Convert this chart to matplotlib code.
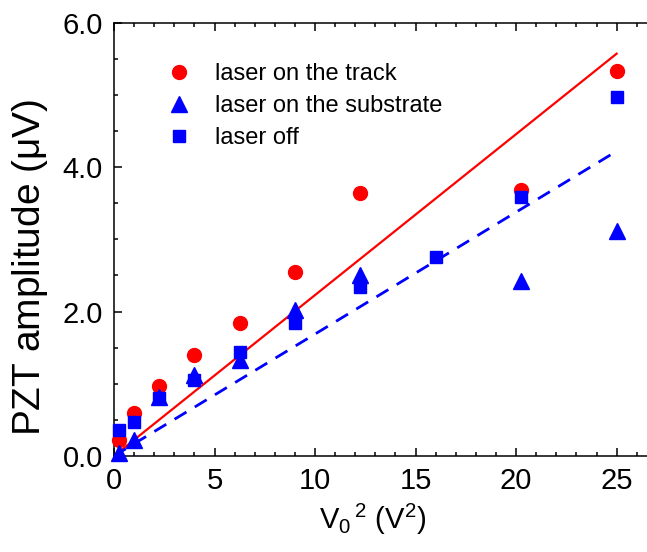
import numpy as np
import matplotlib.pyplot as plt

plt.rcParams['font.family'] = ['Liberation Sans', 'DejaVu Sans']
plt.rcParams['mathtext.default'] = 'regular'

# V0^2 values (V^2)
x_track = [0.25, 1, 2.25, 4, 6.25, 9, 12.25, 20.25, 25]
y_track = [0.22, 0.60, 0.97, 1.40, 1.84, 2.55, 3.64, 3.68, 5.33]

x_sub = [0.25, 1, 2.25, 4, 6.25, 9, 12.25, 20.25, 25]
y_sub = [0.04, 0.22, 0.82, 1.12, 1.33, 2.02, 2.51, 2.42, 3.12]

x_off = [0.25, 1, 2.25, 4, 6.25, 9, 12.25, 16, 20.25, 25]
y_off = [0.36, 0.47, 0.80, 1.05, 1.44, 1.84, 2.34, 2.76, 3.59, 4.97]

# linear fits
x_fit = [0, 25]
y_fit_track = [0.0, 5.57]
y_fit_off = [0.0, 4.22]

fig = plt.figure(figsize=(6.47, 5.52), dpi=100)
ax = fig.add_axes([0.1762, 0.174, 0.839, 0.785])

ax.plot(x_fit, y_fit_track, color='red', lw=1.6)
ax.plot(x_fit, y_fit_off, color='blue', lw=2, ls=(0, (5, 3.5)))

ax.plot(x_track, y_track, 'o', color='red', ms=10, label='laser on the track', clip_on=False, zorder=3)
ax.plot(x_sub, y_sub, '^', color='blue', ms=11, label='laser on the substrate', clip_on=False, zorder=3)
ax.plot(x_off, y_off, 's', color='blue', ms=8.5, label='laser off', clip_on=False, zorder=3)

ax.set_xlim(0, 27)
ax.set_ylim(0, 6)
ax.set_xticks([0, 5, 10, 15, 20, 25])
ax.set_xticks(np.arange(0, 27, 1), minor=True)
ax.set_yticks([0, 2, 4, 6])
ax.set_yticklabels(['0.0', '2.0', '4.0', '6.0'])
ax.set_yticks(np.arange(0, 6.01, 0.5), minor=True)

ax.tick_params(which='both', direction='in', top=True, right=True, width=1.1, labelsize=21)
ax.tick_params(which='major', length=6)
ax.tick_params(which='minor', length=3)
ax.tick_params(axis='y', pad=8)
ax.tick_params(axis='x', pad=8)
for s in ax.spines.values():
    s.set_linewidth(1.1)

ax.set_xlabel(r'V$_0$$^{\,2}$ (V$^2$)', fontsize=21)
ax.set_ylabel(r'PZT amplitude ($\mu$V)', fontsize=28)
ax.xaxis.set_label_coords(0.476, -0.105)
ax.yaxis.set_label_coords(-0.118, 0.435)

ax.legend(loc='upper left', bbox_to_anchor=(0.055, 0.955), frameon=False, fontsize=17,
          handletextpad=0.9, labelspacing=0.42, handlelength=1.2)

fig.savefig('out.png', dpi=100)
